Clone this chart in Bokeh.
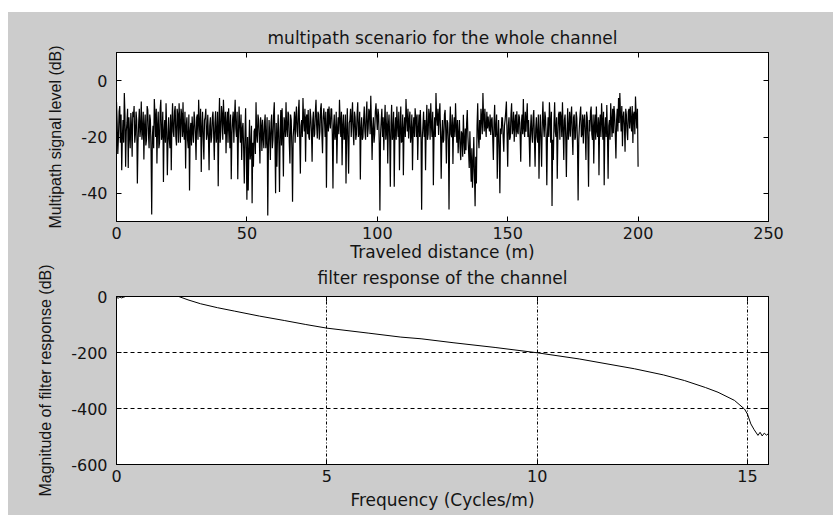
from bokeh.plotting import figure
from bokeh.models import LinearAxis, Range1d, FixedTicker
from bokeh.layouts import column
from bokeh.embed import file_html
from bokeh.resources import INLINE

# ---------------- data ----------------
# samples every 0.5 m starting at 0 m
signal_db_on_grid = [
    -7.5, -26, -11, -22, -31.8, -14, -4.4, -30.6, -15, -31,
    -19, -11.5, -27, -13, -22, -11, -36.5, -15, -20, -7.4,
    -18, -28, -12, -21, -10.4, -24, -14, -47.5, -16, -6.5,
    -20, -29.4, -11, -22, -6.8, -19, -36, -14, -8, -33.6,
    -13, -24, -31.8, -8, -20, -9, -23, -12, -8, -22,
    -12, -7.7, -21, -31.2, -13, -24, -39, -15, -12.7, -22,
    -14, -28.2, -12, -6.8, -20, -32.4, -11, -28, -13, -21,
    -12.1, -31.8, -13, -20, -11, -28.2, -10.9, -19, -37.5, -6.2,
    -18, -12, -6.8, -19, -25.8, -11, -9.8, -24, -35, -14,
    -22, -6.8, -20, -35, -9.2, -22, -28.2, -15, -36.5, -9.8,
    -42.3, -39, -13.9, -25, -43.5, -30.6, -17, -7.7, -22, -14,
    -29.4, -16, -13.9, -24, -12, -20, -47.9, -14, -28.2, -12,
    -21, -7.7, -40, -30.6, -12, -39.5, -10.4, -9.8, -34, -15,
    -7.7, -20, -12, -29.4, -14, -43, -16, -22, -9.2, -20,
    -6.8, -33, -14, -6.2, -18, -28.8, -12, -10.4, -21, -13,
    -28.8, -11, -19, -6.8, -20.5, -12, -18, -8, -25.8, -9.8,
    -20, -38, -10, -9.2, -17, -10, -38.3, -12, -19.3, -29.4,
    -13, -6.8, -20, -30, -12, -20, -36.5, -9.8, -33, -14,
    -20, -7.7, -22.9, -13, -19, -7.7, -18, -35.1, -13, -20,
    -9.2, -21, -7.4, -17, -11, -5.4, -28.2, -13, -19, -8,
    -17.5, -12, -46.1, -14, -20, -24.7, -8.6, -18, -29.4, -12,
    -37.7, -8.6, -19, -37.7, -13, -9.2, -20, -31.8, -9.2, -21,
    -33.6, -13, -6.5, -18, -20.5, -11, -19, -31.8, -13, -9.8,
    -20, -28.2, -12, -10.4, -45.8, -16, -20, -31.8, -8.6, -19,
    -12, -8, -20, -37.1, -13, -4.4, -16, -19.3, -8, -34.8,
    -14, -21, -10.4, -29.4, -15, -45.7, -9.2, -20, -29.6, -13,
    -8, -22, -25.8, -14, -28.2, -19, -12.1, -26, -24.7, -10.4,
    -25, -18, -35.9, -38, -20, -44.6, -36.5, -8, -24, -21,
    -13, -4.4, -18, -16.3, -11, -12.7, -18, -19.3, -13, -28.2,
    -8.6, -18, -34.8, -14, -40, -19, -13.3, -25.2, -14, -7.4,
    -30.6, -13, -20, -8, -17, -21.7, -12, -10.9, -19, -13,
    -28.8, -12, -6.5, -20, -18.1, -8, -14, -30.6, -12, -22,
    -10.4, -30.6, -13, -22, -34.8, -12, -30.6, -7.4, -20, -13,
    -37.1, -13, -7.7, -22, -44.5, -28.2, -7.7, -20, -34.8, -12,
    -21, -13, -7.7, -28.2, -12, -34.2, -9.8, -17, -19.9, -9.2,
    -26.4, -12, -20, -13.3, -42.5, -16, -9.2, -19, -22.3, -12,
    -28.2, -13, -37.7, -18, -9.2, -21, -29.4, -12, -9.2, -20,
    -33.6, -12, -8, -21, -37.1, -13, -8.6, -34.8, -14, -8,
    -20, -18.7, -12, -27.6, -10, -6.2, -4.4, -18, -23.3, -11,
    -25.2, -12, -21.1, -10, -9.2, -18, -22.1, -11, -5.6, -17,
    -30.6,
]
# samples half-way between them (0.25 m, 0.75 m, ...)
signal_db_between = [
    -15, -20, -9, -12, -20, -22, -12, -18, -10, -13,
    -24, -16, -11, -9, -19, -14, -22, -10, -17, -21,
    -11, -16, -23, -9, -19, -12, -25, -20, -24, -12,
    -10, -16, -24, -10, -21, -11, -18, -22, -17, -21,
    -21, -12, -15, -18, -11, -20, -10, -22, -15, -10,
    -20, -18, -11, -16, -21, -12, -18, -23, -18, -11,
    -19, -13, -21, -15, -10, -17, -20, -14, -10, -19,
    -20, -16, -22, -13, -19, -15, -22, -11, -16, -22,
    -9, -21, -14, -11, -15, -22, -16, -12, -19, -11,
    -13, -17, -11, -19, -16, -12, -17, -24, -20, -24,
    -20, -25, -28, -16, -22, -18, -26, -19, -12, -20,
    -13, -25, -20, -15, -24, -13, -24, -19, -15, -24,
    -12, -21, -15, -19, -22, -18, -23, -20, -13, -20,
    -17, -11, -22, -12, -24, -20, -11, -13, -18, -11,
    -20, -16, -20, -14, -10, -13, -19, -20, -10, -18,
    -14, -20, -11, -16, -11, -21, -10, -19, -13, -14,
    -11, -16, -18, -15, -10, -19, -16, -21, -11, -17,
    -19, -14, -11, -16, -21, -12, -18, -21, -15, -10,
    -13, -18, -11, -21, -12, -20, -11, -17, -21, -14,
    -18, -12, -20, -10, -19, -15, -17, -22, -11, -13,
    -10, -22, -19, -10, -13, -15, -21, -11, -16, -20,
    -15, -21, -11, -18, -21, -16, -11, -17, -22, -12,
    -17, -20, -13, -10, -14, -22, -12, -17, -20, -13,
    -12, -17, -20, -19, -21, -11, -14, -16, -21, -10,
    -21, -16, -11, -19, -20, -13, -10, -12, -18, -20,
    -22, -12, -18, -14, -21, -17, -19, -12, -16, -20,
    -16, -14, -19, -24, -18, -27, -21, -17, -15, -20,
    -31, -28, -24, -30, -33, -27, -16, -20, -14, -10,
    -19, -13, -10, -20, -17, -16, -12, -14, -20, -15,
    -20, -12, -20, -24, -17, -13, -20, -16, -11, -19,
    -16, -21, -12, -19, -11, -15, -20, -18, -12, -19,
    -15, -19, -17, -11, -13, -20, -21, -17, -19, -13,
    -21, -17, -20, -12, -19, -21, -15, -16, -11, -20,
    -19, -20, -14, -11, -21, -15, -18, -13, -19, -11,
    -11, -20, -17, -14, -20, -18, -21, -11, -13, -19,
    -13, -21, -11, -22, -21, -12, -20, -12, -14, -19,
    -11, -21, -14, -11, -19, -12, -16, -21, -18, -13,
    -15, -20, -14, -11, -17, -20, -19, -16, -21, -14,
    -10, -9, -19, -14, -18, -15, -12, -9, -13, -16,
    -10, -18, -11, -17, -14, -9, -12, -19, -12, -10,
]
sample_step_m = 0.25

signal_db = []
for a, b in zip(signal_db_on_grid, signal_db_between):
    signal_db += [a, b]
signal_db.append(signal_db_on_grid[-1])
distance_m = [i * sample_step_m for i in range(len(signal_db))]

freq_cpm = [0.0, 0.04, 0.08, 0.12, 0.16, 0.2, 0.3, 1.3, 1.48, 1.7, 2.0, 2.4,
            2.8, 3.4, 4.0, 4.5, 5.0, 6.0, 6.76, 7.24, 8.0, 9.0, 10.0, 11.0,
            12.31, 13.0, 13.5, 14.0, 14.3, 14.69, 14.93, 15.0, 15.08, 15.16,
            15.25, 15.3, 15.35, 15.4, 15.45, 15.5]
response_db = [-3, -6, -2, -5, -3, -1, 30, 20, 0, -12, -26, -40,
               -52, -70, -86, -100, -113, -131, -145, -151, -165, -182, -201, -223,
               -258, -280, -300, -325, -342, -371, -402, -420, -455, -476,
               -496, -485, -498, -488, -495, -490]

top_xticks = [0, 50, 100, 150, 200, 250]
top_yticks = [-40, -20, 0]
bot_xticks = [0, 5, 10, 15]
bot_yticks = [-600, -400, -200, 0]

FONT = "DejaVu Sans"
VFONT = "Liberation Sans"
TXT = "#141414"
GRAY = "#cccccc"


def hyphen_labels(ticks):
    return {t: str(t) for t in ticks}


def plain_axis(ticks):
    return LinearAxis(ticker=FixedTicker(ticks=ticks), major_tick_in=5, major_tick_out=0,
                      minor_tick_line_color=None, major_label_text_font_size="1px",
                      major_label_text_color=None, major_label_standoff=0,
                      axis_line_color="black", major_tick_line_color="black")


def style(p, xticks, yticks, title, xlabel, ylabel, title_gap):
    p.background_fill_color = "white"
    p.outline_line_color = "black"
    p.outline_line_width = 1
    p.title.text = title
    p.title.align = "center"
    p.title.text_font = FONT
    p.title.text_font_size = "17px"
    p.title.text_font_style = "normal"
    p.title.text_color = TXT
    p.title.standoff = title_gap
    bx = p.below[0]
    ly = p.left[0]
    for ax in (bx, ly):
        ax.major_tick_in = 5
        ax.major_tick_out = 0
        ax.minor_tick_line_color = None
        ax.axis_line_color = "black"
        ax.major_tick_line_color = "black"
        ax.major_label_text_font = FONT
        ax.major_label_text_font_size = "16px"
        ax.major_label_text_color = TXT
        ax.axis_label_text_color = TXT
        ax.axis_label_text_font_style = "normal"
    bx.ticker = FixedTicker(ticks=xticks)
    ly.ticker = FixedTicker(ticks=yticks)
    bx.major_label_overrides = hyphen_labels(xticks)
    ly.major_label_overrides = hyphen_labels(yticks)
    bx.axis_label = xlabel
    bx.axis_label_text_font = FONT
    bx.axis_label_text_font_size = "17px"
    bx.major_label_standoff = 5
    bx.axis_label_standoff = 0
    ly.axis_label = ylabel
    ly.axis_label_text_font = VFONT
    ly.axis_label_text_font_size = "16px"
    ly.major_label_standoff = 9
    ly.axis_label_standoff = 14
    p.add_layout(plain_axis(xticks), "above")
    p.add_layout(plain_axis(yticks), "right")


p1 = figure(frame_width=652, frame_height=169, min_border_left=108, min_border_right=65,
            min_border_top=40, min_border_bottom=41,
            x_range=Range1d(0, 250), y_range=Range1d(-50, 10),
            output_backend="svg", toolbar_location=None)
p1.line(distance_m, signal_db, line_color="black", line_width=1.2)
style(p1, top_xticks, top_yticks, "multipath scenario for the whole channel",
      "Traveled distance (m)", "Multipath signal level (dB)", 9)
p1.border_fill_color = GRAY
p1.xgrid.visible = False
p1.ygrid.visible = False

p2 = figure(frame_width=652, frame_height=168, min_border_left=108, min_border_right=65,
            min_border_top=40, min_border_bottom=51,
            x_range=Range1d(0, 15.5), y_range=Range1d(-600, 0),
            output_backend="svg", toolbar_location=None)
p2.line(freq_cpm, response_db, line_color="black", line_width=1)
style(p2, bot_xticks, bot_yticks, "filter response of the channel",
      "Frequency (Cycles/m)", "Magnitude of filter response (dB)", 18)
p2.border_fill_color = None
p2.below[0].axis_label_standoff = 5
p2.xgrid.grid_line_color = "black"
p2.xgrid.grid_line_dash = "3 2 1 2"
p2.ygrid.grid_line_color = "black"
p2.ygrid.grid_line_dash = "4 3"
p2.margin = (-8, 0, 0, 0)

layout = column(p1, p2, spacing=0, margin=(12, 0, 0, 8),
                styles={"background-color": GRAY})
open("out.html", "w").write(file_html(layout, INLINE))
